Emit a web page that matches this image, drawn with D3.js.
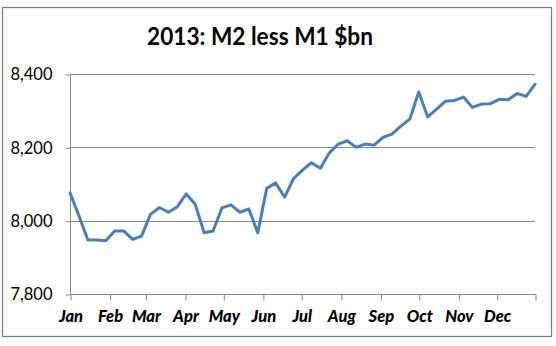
<!DOCTYPE html>
<html>
<head>
<meta charset="utf-8">
<script src="https://cdn.jsdelivr.net/npm/d3@7"></script>
<style>
  html, body { margin: 0; padding: 0; background: #fff; }
  svg { display: block; }
</style>
</head>
<body>
<svg id="chart" width="556" height="346"></svg>
<script>
const title = "2013: M2 less M1 $bn";

const dates = [
  "2013-01-01","2013-01-08","2013-01-15","2013-01-22","2013-01-29",
  "2013-02-05","2013-02-12","2013-02-19","2013-02-26",
  "2013-03-05","2013-03-12","2013-03-19","2013-03-26",
  "2013-04-02","2013-04-09","2013-04-16","2013-04-23","2013-04-30",
  "2013-05-07","2013-05-14","2013-05-21","2013-05-28",
  "2013-06-04","2013-06-11","2013-06-18","2013-06-25",
  "2013-07-02","2013-07-09","2013-07-16","2013-07-23","2013-07-30",
  "2013-08-06","2013-08-13","2013-08-20","2013-08-27",
  "2013-09-03","2013-09-10","2013-09-17","2013-09-24",
  "2013-10-01","2013-10-08","2013-10-15","2013-10-22","2013-10-29",
  "2013-11-05","2013-11-12","2013-11-19","2013-11-26",
  "2013-12-03","2013-12-10","2013-12-17","2013-12-24","2013-12-31"
];

const values = [
  8076, 8013, 7947, 7947, 7945,
  7972, 7972, 7949, 7958,
  8017, 8036, 8023, 8038,
  8073, 8045, 7967, 7972, 8035,
  8043, 8023, 8032, 7967,
  8088, 8103, 8064, 8115,
  8138, 8158, 8143, 8185, 8209,
  8218, 8200, 8209, 8206,
  8227, 8236, 8258, 8277,
  8351, 8283, 8304, 8326, 8328,
  8337, 8309, 8318, 8319,
  8331, 8330, 8347, 8339, 8372
];

const monthLabels = ["Jan","Feb","Mar","Apr","May","Jun","Jul","Aug","Sep","Oct","Nov","Dec"];
const yTicks = [7800, 8000, 8200, 8400];
const xDomain = ["2013-01-01", "2013-12-31"];

const parse = d3.timeParse("%Y-%m-%d");
const data = dates.map((d, i) => ({ date: parse(d), value: values[i] }));

const svg = d3.select("#chart");
const plot = { left: 70, right: 535, top: 74, bottom: 294 };

// chart border
svg.append("rect")
  .attr("x", 2.5).attr("y", 7.5)
  .attr("width", 549).attr("height", 329)
  .attr("fill", "#fff")
  .attr("stroke", "#808080")
  .attr("stroke-width", 1.3);

const x = d3.scaleTime()
  .domain(xDomain.map(parse))
  .range([plot.left, plot.right]);

const y = d3.scaleLinear()
  .domain([yTicks[0], yTicks[yTicks.length - 1]])
  .range([plot.bottom, plot.top]);

// gridlines
svg.append("g")
  .selectAll("line")
  .data(yTicks.slice(1))
  .join("line")
  .attr("x1", plot.left).attr("x2", plot.right)
  .attr("y1", d => Math.round(y(d)) + 0.5)
  .attr("y2", d => Math.round(y(d)) + 0.5)
  .attr("stroke", "#8a8a8a")
  .attr("stroke-width", 1);

// y axis
const yAxis = d3.axisLeft(y)
  .tickValues(yTicks)
  .tickSize(5)
  .tickPadding(13)
  .tickFormat(d3.format(","));
const gy = svg.append("g")
  .attr("transform", `translate(${plot.left + 0.5},0.5)`)
  .call(yAxis);
gy.select(".domain").attr("stroke", "#8a8a8a").attr("d", `M0,${plot.top}V${plot.bottom}`);
gy.selectAll(".tick line").attr("stroke", "#8a8a8a");
gy.selectAll(".tick text")
  .attr("fill", "#000")
  .style("font-family", "Lato, 'Open Sans', sans-serif")
  .style("font-size", "16.5px");

// x axis
const monthTicks = d3.timeMonth.range(x.domain()[0], x.domain()[1]);
const xTickVals = monthTicks.concat([x.domain()[1]]);
const xAxis = d3.axisBottom(x)
  .tickValues(xTickVals)
  .tickSize(6)
  .tickPadding(10)
  .tickFormat((d, i) => i < monthLabels.length ? monthLabels[i] : "");
const gx = svg.append("g")
  .attr("transform", `translate(0.5,${plot.bottom + 0.5})`)
  .call(xAxis);
gx.select(".domain").attr("stroke", "#8a8a8a").attr("d", `M${plot.left},0H${plot.right}`);
gx.selectAll(".tick line").attr("stroke", "#8a8a8a");
gx.selectAll(".tick text")
  .attr("fill", "#000")
  .style("font-family", "Lato, 'Open Sans', sans-serif")
  .style("font-size", "16.5px")
  .style("font-weight", "900")
  .style("font-style", "italic");

// line
const line = d3.line()
  .x(d => x(d.date))
  .y(d => y(d.value));
svg.append("path")
  .datum(data)
  .attr("d", line)
  .attr("fill", "none")
  .attr("stroke", "#4a7ebb")
  .attr("stroke-width", 3)
  .attr("stroke-linejoin", "round")
  .attr("stroke-linecap", "round");

// title
svg.append("text")
  .attr("x", 260)
  .attr("y", 45)
  .attr("text-anchor", "middle")
  .attr("textLength", 226)
  .attr("lengthAdjust", "spacingAndGlyphs")
  .style("font-family", "Lato, 'Open Sans', sans-serif")
  .style("font-size", "25px")
  .style("font-weight", "bold")
  .attr("fill", "#000")
  .text(title);
</script>
</body>
</html>
